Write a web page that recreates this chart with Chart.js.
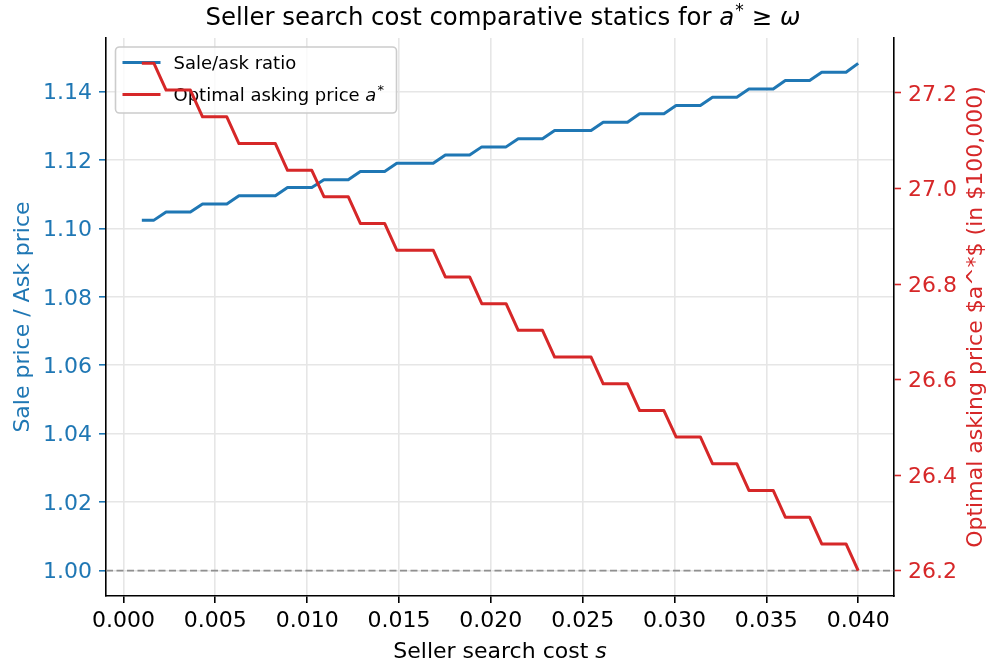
<!DOCTYPE html>
<html>
<head>
<meta charset="utf-8">
<script src="https://cdn.jsdelivr.net/npm/chart.js@4/dist/chart.umd.min.js"></script>
<style>
  html, body { margin: 0; padding: 0; background: #ffffff; }
  canvas { display: block; }
</style>
</head>
<body>
<canvas id="chart" width="990" height="664"></canvas>
<script>
// Seller search cost grid s
const searchCost = [
  0.001000, 0.001661, 0.002322, 0.002983, 0.003644, 0.004305, 0.004966, 0.005627, 0.006288, 0.006949,
  0.007610, 0.008271, 0.008932, 0.009593, 0.010254, 0.010915, 0.011576, 0.012237, 0.012898, 0.013559,
  0.014220, 0.014881, 0.015542, 0.016203, 0.016864, 0.017525, 0.018186, 0.018847, 0.019508, 0.020169,
  0.020831, 0.021492, 0.022153, 0.022814, 0.023475, 0.024136, 0.024797, 0.025458, 0.026119, 0.026780,
  0.027441, 0.028102, 0.028763, 0.029424, 0.030085, 0.030746, 0.031407, 0.032068, 0.032729, 0.033390,
  0.034051, 0.034712, 0.035373, 0.036034, 0.036695, 0.037356, 0.038017, 0.038678, 0.039339, 0.040000
];

// Expected sale price divided by the asking price
const saleAskRatio = [
  1.1024, 1.1024, 1.1048, 1.1048, 1.1048, 1.1071, 1.1071, 1.1071, 1.1095, 1.1095,
  1.1095, 1.1095, 1.1119, 1.1119, 1.1119, 1.1142, 1.1142, 1.1142, 1.1166, 1.1166,
  1.1166, 1.1190, 1.1190, 1.1190, 1.1190, 1.1214, 1.1214, 1.1214, 1.1238, 1.1238,
  1.1238, 1.1262, 1.1262, 1.1262, 1.1286, 1.1286, 1.1286, 1.1286, 1.1310, 1.1310,
  1.1310, 1.1335, 1.1335, 1.1335, 1.1359, 1.1359, 1.1359, 1.1383, 1.1383, 1.1383,
  1.1407, 1.1407, 1.1407, 1.1432, 1.1432, 1.1432, 1.1456, 1.1456, 1.1456, 1.1482
];

// Optimal asking price a* (in $100,000)
const askingPrice = [
  27.262, 27.262, 27.206, 27.206, 27.206, 27.150, 27.150, 27.150, 27.094, 27.094,
  27.094, 27.094, 27.038, 27.038, 27.038, 26.983, 26.983, 26.983, 26.927, 26.927,
  26.927, 26.871, 26.871, 26.871, 26.871, 26.815, 26.815, 26.815, 26.759, 26.759,
  26.759, 26.703, 26.703, 26.703, 26.647, 26.647, 26.647, 26.647, 26.591, 26.591,
  26.591, 26.535, 26.535, 26.535, 26.480, 26.480, 26.480, 26.424, 26.424, 26.424,
  26.368, 26.368, 26.368, 26.312, 26.312, 26.312, 26.256, 26.256, 26.256, 26.200
];

const costTicks  = [0.000, 0.005, 0.010, 0.015, 0.020, 0.025, 0.030, 0.035, 0.040];
const ratioTicks = [1.00, 1.02, 1.04, 1.06, 1.08, 1.10, 1.12, 1.14];
const priceTicks = [26.2, 26.4, 26.6, 26.8, 27.0, 27.2];

// Sale price equal to ask price
const parityRatio = 1.0;

const BLUE = '#1f77b4';
const RED = '#d62728';
const FONT = 'DejaVu Sans';
const GRID = '#e6e6e6';

// axis limits padded by 5% of the data span on each side
function padded(values) {
  const lo = Math.min(...values), hi = Math.max(...values);
  const m = (hi - lo) * 0.05;
  return { min: lo - m, max: hi + m };
}
const xLim = padded(searchCost);
const ratioLim = padded(saleAskRatio.concat([parityRatio]));
const priceLim = padded(askingPrice);

Chart.defaults.font.family = FONT;

// draws a sequence of differently styled text pieces on one baseline
function drawRuns(ctx, runs, x, y, align) {
  let total = 0;
  runs.forEach(r => {
    ctx.font = r.font;
    r.w = ctx.measureText(r.text).width + (r.gapBefore || 0) + (r.gapAfter || 0);
    total += r.w;
  });
  let cx = align === 'center' ? x - total / 2 : x;
  ctx.textAlign = 'left';
  ctx.textBaseline = 'alphabetic';
  runs.forEach(r => {
    ctx.font = r.font;
    ctx.fillText(r.text, cx + (r.gapBefore || 0), y + (r.dy || 0));
    cx += r.w;
  });
}

function drawLegend(chart) {
  const ctx = chart.ctx;
  const a = chart.chartArea;
  const bx = a.left + 9.5, by = a.top + 9, bw = 281, bh = 66;
  ctx.save();
  ctx.beginPath();
  ctx.roundRect(bx, by, bw, bh, 4);
  ctx.fillStyle = 'rgba(255,255,255,0.8)';
  ctx.fill();
  ctx.lineWidth = 1.6;
  ctx.strokeStyle = '#cccccc';
  ctx.stroke();

  const rows = [
    { color: BLUE, y: by + 15.5, runs: [{ text: 'Sale/ask ratio', font: '18px ' + FONT }] },
    { color: RED, y: by + 47.5, runs: [
      { text: 'Optimal asking price ', font: '18px ' + FONT },
      { text: 'a', font: 'italic 18px ' + FONT },
      { text: '*', font: '13px ' + FONT, dy: -7, gapBefore: 1 }
    ] }
  ];
  rows.forEach(row => {
    ctx.beginPath();
    ctx.moveTo(bx + 7, row.y);
    ctx.lineTo(bx + 45, row.y);
    ctx.strokeStyle = row.color;
    ctx.lineWidth = 3;
    ctx.stroke();
    ctx.fillStyle = '#000000';
    drawRuns(ctx, row.runs, bx + 58, row.y + 6.6, 'left');
  });
  ctx.restore();
}

const decorations = {
  id: 'decorations',
  beforeDatasetsDraw(chart) {
    // dashed parity line on the ratio axis
    const ctx = chart.ctx, a = chart.chartArea;
    const yPix = chart.scales.y.getPixelForValue(parityRatio);
    ctx.save();
    ctx.beginPath();
    ctx.setLineDash([7, 3.5]);
    ctx.moveTo(a.left, yPix);
    ctx.lineTo(a.right, yPix);
    ctx.strokeStyle = 'rgba(128,128,128,0.85)';
    ctx.lineWidth = 1.6;
    ctx.stroke();
    ctx.restore();
  },
  beforeDatasetDraw(chart, args) {
    // the price line belongs to the twin axis and sits above the legend
    if (args.index === 1) drawLegend(chart);
  },
  afterDraw(chart) {
    const ctx = chart.ctx, a = chart.chartArea;
    const cx = (a.left + a.right) / 2, cy = (a.top + a.bottom) / 2;
    ctx.save();
    ctx.fillStyle = '#000000';
    drawRuns(ctx, [
      { text: 'Seller search cost comparative statics for ', font: '24.4px ' + FONT },
      { text: 'a', font: 'italic 24.4px ' + FONT },
      { text: '*', font: '17px ' + FONT, dy: -9, gapBefore: 1 },
      { text: '\u2265', font: '24.4px ' + FONT, gapBefore: 8, gapAfter: 8 },
      { text: '\u03c9', font: 'italic 24.4px ' + FONT }
    ], cx + 3, 25, 'center');

    drawRuns(ctx, [
      { text: 'Seller search cost ', font: '22px ' + FONT },
      { text: 's', font: 'italic 22px ' + FONT }
    ], cx, 658, 'center');

    ctx.font = '22px ' + FONT;
    ctx.textAlign = 'center';
    ctx.textBaseline = 'alphabetic';

    ctx.save();
    ctx.translate(29, cy);
    ctx.rotate(-Math.PI / 2);
    ctx.fillStyle = BLUE;
    ctx.fillText('Sale price / Ask price', 0, 0);
    ctx.restore();

    ctx.save();
    ctx.translate(981.5, cy);
    ctx.rotate(-Math.PI / 2);
    ctx.fillStyle = RED;
    ctx.fillText('Optimal asking price $a^*$ (in $100,000)', 0, 0);
    ctx.restore();

    ctx.restore();
  }
};

const tickFont = { family: FONT, size: 22 };

new Chart(document.getElementById('chart'), {
  type: 'line',
  data: {
    datasets: [
      {
        label: 'Sale/ask ratio',
        data: searchCost.map((s, i) => ({ x: s, y: saleAskRatio[i] })),
        yAxisID: 'y',
        borderColor: BLUE,
        borderWidth: 3,
        borderJoinStyle: 'round',
        pointRadius: 0,
        tension: 0,
        fill: false,
        order: 2
      },
      {
        label: 'Optimal asking price a*',
        data: searchCost.map((s, i) => ({ x: s, y: askingPrice[i] })),
        yAxisID: 'y1',
        borderColor: RED,
        borderWidth: 3,
        borderJoinStyle: 'round',
        pointRadius: 0,
        tension: 0,
        fill: false,
        order: 1
      }
    ]
  },
  options: {
    responsive: false,
    animation: false,
    devicePixelRatio: 1,
    events: [],
    layout: { padding: { top: 38, left: 0, right: 0, bottom: 0 } },
    plugins: {
      legend: { display: false },
      title: { display: false },
      tooltip: { enabled: false }
    },
    scales: {
      x: {
        type: 'linear',
        position: 'bottom',
        min: xLim.min,
        max: xLim.max,
        afterBuildTicks: s => { s.ticks = costTicks.map(v => ({ value: v })); },
        afterFit: s => { s.height = 68; },
        ticks: {
          font: tickFont, color: '#000000', padding: 5,
          maxRotation: 0, autoSkip: false,
          callback: v => Number(v).toFixed(3)
        },
        grid: { color: GRID, lineWidth: 1.6, tickColor: '#000000', tickLength: 7, tickWidth: 1.6 },
        border: { display: true, color: '#000000', width: 1.6 }
      },
      y: {
        type: 'linear',
        position: 'left',
        min: ratioLim.min,
        max: ratioLim.max,
        afterBuildTicks: s => { s.ticks = ratioTicks.map(v => ({ value: v })); },
        afterFit: s => { s.width = 106; },
        ticks: {
          font: tickFont, color: BLUE, padding: 7, labelOffset: 2,
          callback: v => Number(v).toFixed(2)
        },
        grid: { color: GRID, lineWidth: 1.6, tickColor: BLUE, tickLength: 7, tickWidth: 1.6 },
        border: { display: true, color: '#000000', width: 1.6 }
      },
      y1: {
        type: 'linear',
        position: 'right',
        min: priceLim.min,
        max: priceLim.max,
        afterBuildTicks: s => { s.ticks = priceTicks.map(v => ({ value: v })); },
        afterFit: s => { s.width = 96; },
        ticks: {
          font: tickFont, color: RED, padding: 7, labelOffset: 2,
          callback: v => Number(v).toFixed(1)
        },
        grid: { drawOnChartArea: false, tickColor: RED, tickLength: 7, tickWidth: 1.6 },
        border: { display: true, color: '#000000', width: 1.6 }
      }
    }
  },
  plugins: [decorations]
});
</script>
</body>
</html>
